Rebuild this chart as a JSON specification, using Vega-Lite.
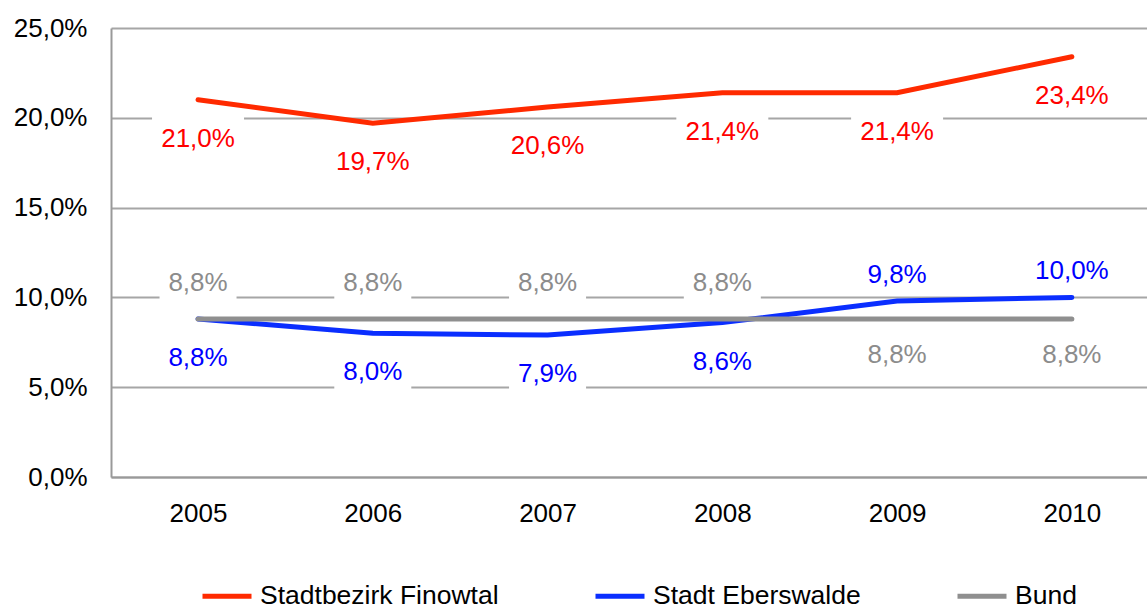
{
  "$schema": "https://vega.github.io/schema/vega-lite/v6.json",
  "width": 1036,
  "height": 449,
  "autosize": {"type": "none"},
  "padding": {"left": 111, "top": 28, "right": 0, "bottom": 134},
  "background": "white",
  "config": {
    "locale": {"number": {"decimal": ",", "thousands": ".", "grouping": [3], "currency": ["", " €"]}},
    "view": {"stroke": null},
    "font": "Liberation Sans",
    "axis": {"labelFont": "Liberation Sans", "labelFontSize": 26, "labelColor": "#000000", "title": null}
  },
  "data": {
    "values": [
      {"year": 2005, "series": "Stadtbezirk Finowtal", "value": 0.210},
      {"year": 2006, "series": "Stadtbezirk Finowtal", "value": 0.197},
      {"year": 2007, "series": "Stadtbezirk Finowtal", "value": 0.206},
      {"year": 2008, "series": "Stadtbezirk Finowtal", "value": 0.214},
      {"year": 2009, "series": "Stadtbezirk Finowtal", "value": 0.214},
      {"year": 2010, "series": "Stadtbezirk Finowtal", "value": 0.234},
      {"year": 2005, "series": "Stadt Eberswalde", "value": 0.088},
      {"year": 2006, "series": "Stadt Eberswalde", "value": 0.080},
      {"year": 2007, "series": "Stadt Eberswalde", "value": 0.079},
      {"year": 2008, "series": "Stadt Eberswalde", "value": 0.086},
      {"year": 2009, "series": "Stadt Eberswalde", "value": 0.098},
      {"year": 2010, "series": "Stadt Eberswalde", "value": 0.100},
      {"year": 2005, "series": "Bund", "value": 0.088},
      {"year": 2006, "series": "Bund", "value": 0.088},
      {"year": 2007, "series": "Bund", "value": 0.088},
      {"year": 2008, "series": "Bund", "value": 0.088},
      {"year": 2009, "series": "Bund", "value": 0.088},
      {"year": 2010, "series": "Bund", "value": 0.088}
    ]
  },
  "encoding": {
    "x": {
      "field": "year", "type": "quantitative",
      "scale": {"domain": [2004.502, 2010.43], "nice": false, "zero": false},
      "axis": {"values": [2005, 2006, 2007, 2008, 2009, 2010], "format": "d", "grid": false, "ticks": false, "domainColor": "#999999", "domainWidth": 2, "labelPadding": 23, "labelFlush": false}
    },
    "y": {
      "field": "value", "type": "quantitative",
      "scale": {"domain": [0, 0.25], "nice": false},
      "axis": {"values": [0, 0.05, 0.1, 0.15, 0.2, 0.25], "format": ".1%", "grid": true, "gridColor": "#A6A6A6", "gridWidth": 2, "ticks": false, "domainColor": "#999999", "domainWidth": 2, "labelPadding": 24}
    }
  },
  "layer": [
    {
      "transform": [{"filter": "datum.series == 'Stadtbezirk Finowtal'"}],
      "mark": {"type": "point", "shape": "M-1,-0.446L1,-0.446L1,0.446L-1,0.446Z", "size": 8464, "filled": true, "fill": "white", "strokeWidth": 0, "opacity": 1, "yOffset": 35.5}
    },
    {
      "transform": [{"filter": "datum.series == 'Stadt Eberswalde' && datum.year <= 2008"}],
      "mark": {"type": "point", "shape": "M-1,-0.532L1,-0.532L1,0.532L-1,0.532Z", "size": 5929, "filled": true, "fill": "white", "strokeWidth": 0, "opacity": 1, "yOffset": 35.5}
    },
    {
      "transform": [{"filter": "datum.series == 'Bund' && datum.year <= 2008"}],
      "mark": {"type": "point", "shape": "M-1,-0.532L1,-0.532L1,0.532L-1,0.532Z", "size": 5929, "filled": true, "fill": "white", "strokeWidth": 0, "opacity": 1, "yOffset": -39.5}
    },
    {
      "transform": [{"filter": "datum.series == 'Bund' && datum.year >= 2009"}],
      "mark": {"type": "point", "shape": "M-1,-0.532L1,-0.532L1,0.532L-1,0.532Z", "size": 5929, "filled": true, "fill": "white", "strokeWidth": 0, "opacity": 1, "yOffset": 32.5}
    },
    {
      "mark": {"type": "line", "strokeWidth": 5, "strokeCap": "round"},
      "encoding": {
        "color": {
          "field": "series", "type": "nominal",
          "scale": {"domain": ["Stadtbezirk Finowtal", "Stadt Eberswalde", "Bund"], "range": ["#FF2A00", "#0A2EFF", "#8F8F8F"]},
          "legend": {
            "title": null, "orient": "none", "direction": "horizontal", "columns": 3,
            "legendX": 89, "legendY": 541,
            "symbolType": "stroke", "symbolSize": 2401, "symbolStrokeWidth": 5,
            "labelFont": "Liberation Sans", "labelFontSize": 26.5, "labelColor": "#000000",
            "labelOffset": 6, "columnPadding": 86, "labelLimit": 400
          }
        }
      }
    },
    {
      "transform": [{"filter": "datum.series == 'Stadtbezirk Finowtal'"}],
      "mark": {"type": "text", "font": "Liberation Sans", "fontSize": 26, "color": "#FF0000", "dy": 39, "baseline": "middle"},
      "encoding": {"text": {"field": "value", "type": "quantitative", "format": ".1%"}}
    },
    {
      "transform": [{"filter": "datum.series == 'Stadt Eberswalde' && datum.year <= 2008"}],
      "mark": {"type": "text", "font": "Liberation Sans", "fontSize": 26, "color": "#0000FF", "dy": 39, "baseline": "middle"},
      "encoding": {"text": {"field": "value", "type": "quantitative", "format": ".1%"}}
    },
    {
      "transform": [{"filter": "datum.series == 'Stadt Eberswalde' && datum.year >= 2009"}],
      "mark": {"type": "text", "font": "Liberation Sans", "fontSize": 26, "color": "#0000FF", "dy": -26, "baseline": "middle"},
      "encoding": {"text": {"field": "value", "type": "quantitative", "format": ".1%"}}
    },
    {
      "transform": [{"filter": "datum.series == 'Bund' && datum.year <= 2008"}],
      "mark": {"type": "text", "font": "Liberation Sans", "fontSize": 26, "color": "#8C8C8C", "dy": -36, "baseline": "middle"},
      "encoding": {"text": {"field": "value", "type": "quantitative", "format": ".1%"}}
    },
    {
      "transform": [{"filter": "datum.series == 'Bund' && datum.year >= 2009"}],
      "mark": {"type": "text", "font": "Liberation Sans", "fontSize": 26, "color": "#8C8C8C", "dy": 36, "baseline": "middle"},
      "encoding": {"text": {"field": "value", "type": "quantitative", "format": ".1%"}}
    }
  ]
}
